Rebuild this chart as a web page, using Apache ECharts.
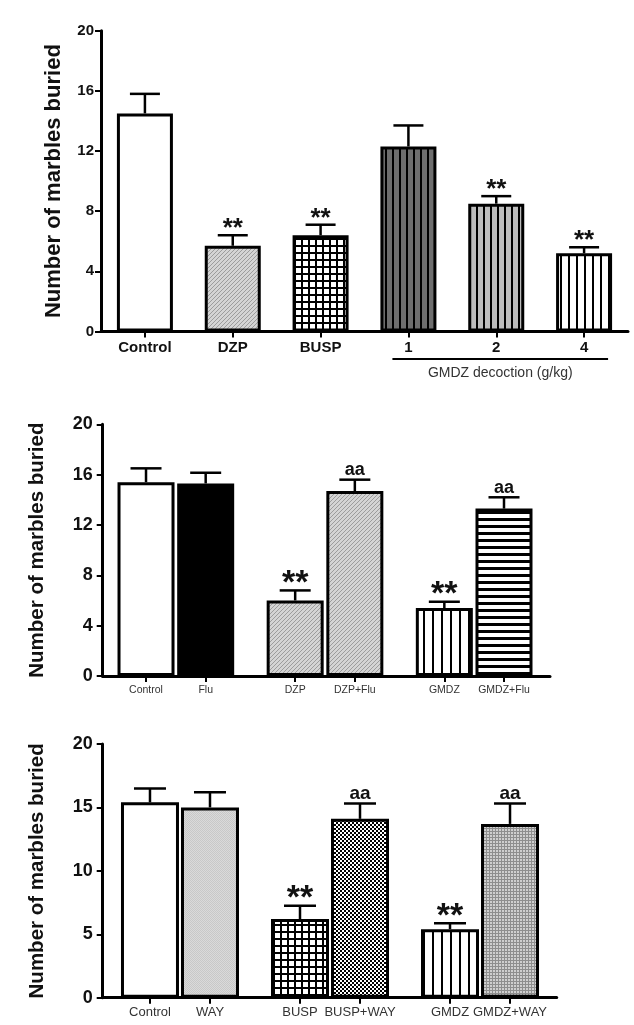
<!DOCTYPE html>
<html><head><meta charset="utf-8">
<script src="https://cdn.jsdelivr.net/npm/echarts@6/dist/echarts.min.js"></script>
<style>html,body{margin:0;padding:0;background:#fff}#c{width:634px;height:1025px}</style>
</head><body><div id="c"></div>
<script>
// ---------- DATA ----------
// Panel A
const catsA = ['Control', 'DZP', 'BUSP', '1', '2', '4'];
const meanA = [14.5, 5.7, 6.4, 12.3, 8.5, 5.2];
const semA  = [1.3, 0.7, 0.7, 1.4, 0.5, 0.4];
const sigA  = ['', '**', '**', '', '**', '**'];
const ticksA = [0, 4, 8, 12, 16, 20];
const groupLabelA = 'GMDZ decoction (g/kg)';
const groupCatsA = ['1', '4'];
// Panel B
const catsB = ['Control', 'Flu', 'DZP', 'DZP+Flu', 'GMDZ', 'GMDZ+Flu'];
const meanB = [15.4, 15.3, 6.0, 14.7, 5.4, 13.3];
const semB  = [1.1, 0.85, 0.8, 0.9, 0.5, 0.9];
const sigB  = ['', '', '**', 'aa', '**', 'aa'];
const ticksB = [0, 4, 8, 12, 16, 20];
// Panel C
const catsC = ['Control', 'WAY', 'BUSP', 'BUSP+WAY', 'GMDZ', 'GMDZ+WAY'];
const meanC = [15.4, 15.0, 6.2, 14.1, 5.4, 13.7];
const semC  = [1.1, 1.2, 1.05, 1.2, 0.47, 1.6];
const sigC  = ['', '', '**', 'aa', '**', 'aa'];
const ticksC = [0, 5, 10, 15, 20];
const yTitle = 'Number of marbles buried';

// ---------- STYLES ----------
function mk(w, h, draw) {
  const c = document.createElement('canvas'); c.width = w; c.height = h;
  const g = c.getContext('2d'); draw(g, w, h);
  return { image: c, repeat: 'repeat' };
}
const P = {
  white: '#ffffff',
  black: '#000000',
  hatch: mk(4, 4, g => { g.fillStyle = '#d4d4d4'; g.fillRect(0,0,4,4); g.fillStyle = '#9c9c9c'; for (let i = 0; i < 4; i++) g.fillRect(i, 3 - i, 1, 1); }),
  grid: mk(7, 7, g => { g.fillStyle = '#fff'; g.fillRect(0,0,7,7); g.fillStyle = '#000'; g.fillRect(0,0,7,2); g.fillRect(0,0,2,7); }),
  vDark: mk(7, 1, g => { g.fillStyle = '#6e6e6e'; g.fillRect(0,0,7,1); g.fillStyle = '#000'; g.fillRect(0,0,2,1); }),
  vLight: mk(7, 1, g => { g.fillStyle = '#bcbcbc'; g.fillRect(0,0,7,1); g.fillStyle = '#000'; g.fillRect(0,0,2,1); }),
  vWhite: mk(8, 1, g => { g.fillStyle = '#fff'; g.fillRect(0,0,8,1); g.fillStyle = '#000'; g.fillRect(0,0,2,1); }),
  vWhite9: mk(9, 1, g => { g.fillStyle = '#fff'; g.fillRect(0,0,9,1); g.fillStyle = '#000'; g.fillRect(0,0,2,1); }),
  hLines: mk(1, 7, g => { g.fillStyle = '#fff'; g.fillRect(0,0,1,7); g.fillStyle = '#000'; g.fillRect(0,0,1,3); }),
  checker: mk(4, 4, g => { g.fillStyle = '#000'; g.fillRect(0,0,4,4); g.fillStyle = '#fff'; g.fillRect(0,0,2,2); g.fillRect(2,2,2,2); }),
  dotLight: mk(2, 2, g => { g.fillStyle = '#dadada'; g.fillRect(0,0,2,2); g.fillStyle = '#c8c8c8'; g.fillRect(0,0,1,1); g.fillRect(1,1,1,1); }),
  dotMid: mk(3, 3, g => { g.fillStyle = '#cfcfcf'; g.fillRect(0,0,3,3); g.fillStyle = '#8e8e8e'; g.fillRect(0,0,3,1); g.fillRect(0,0,1,3); })
};
const fillA = ['white', 'hatch', 'grid', 'vDark', 'vLight', 'vWhite'];
const fillB = ['white', 'black', 'hatch', 'hatch', 'vWhite9', 'hLines'];
const fillC = ['white', 'dotLight', 'grid', 'checker', 'vWhite9', 'dotMid'];

const FONT = 'Liberation Sans, Arial, sans-serif';
// pair layout: two adjacent bars, then a half-bar gap
const pos = catsB.map((c, i) => i + Math.floor(i / 2) * 0.5);

function errRender(sig, capHalf, lw, fsStar, fsA) {
  return function (params, api) {
    const x = api.value(0), m = api.value(1), e = api.value(2);
    const b = api.coord([x, m]), t = api.coord([x, m + e]);
    const s = sig[params.dataIndex];
    const ch = [
      { type: 'line', shape: { x1: b[0], y1: b[1], x2: t[0], y2: t[1] }, style: { stroke: '#000', lineWidth: lw } },
      { type: 'line', shape: { x1: t[0] - capHalf, y1: t[1], x2: t[0] + capHalf, y2: t[1] }, style: { stroke: '#000', lineWidth: lw } }
    ];
    if (s) {
      const star = s === '**';
      const fs = star ? fsStar : fsA;
      const y = star ? t[1] - 4 + 0.42 * fs : t[1] - 4 + 0.21 * fs;
      ch.push({ type: 'text', x: t[0], y: y, style: { text: s, font: 'bold ' + fs + 'px ' + FONT, fill: '#111', align: 'center', verticalAlign: 'bottom' } });
    }
    return { type: 'group', children: ch };
  };
}

function yAxis(gi, ticks, interval, fs, margin, nameGap, nameFs) {
  return {
    gridIndex: gi, type: 'value', min: 0, max: 20, interval: interval,
    name: yTitle, nameLocation: 'middle', nameRotate: 90, nameGap: nameGap,
    nameTextStyle: { fontFamily: FONT, fontWeight: 'bold', fontSize: nameFs, color: '#111' },
    axisLine: { show: true, onZero: false, lineStyle: { color: '#000', width: 3 } },
    axisTick: { show: true, length: 6, lineStyle: { color: '#000', width: 2 } },
    axisLabel: { margin: margin, fontFamily: FONT, fontWeight: 'bold', fontSize: fs, color: '#111' },
    splitLine: { show: false }
  };
}

function barData(cats, means, fills, useCat) {
  return means.map((v, i) => ({ value: [useCat ? i : pos[i], v], itemStyle: { color: P[fills[i]] } }));
}
function errData(means, sems, useCat) {
  return means.map((v, i) => [useCat ? i : pos[i], v, sems[i]]);
}
function valX(gi, cats, min, max, fs, weight, margin) {
  return {
    gridIndex: gi, type: 'value', min: min, max: max,
    axisLine: { show: true, onZero: false, lineStyle: { color: '#000', width: 3 } },
    axisTick: { show: true, customValues: pos, length: 6, lineStyle: { color: '#000', width: 2 } },
    axisLabel: { customValues: pos, margin: margin, fontFamily: FONT, fontSize: fs, fontWeight: weight, color: '#333',
      formatter: v => { let k = 0, d = 1e9; pos.forEach((p, i) => { if (Math.abs(p - v) < d) { d = Math.abs(p - v); k = i; } }); return cats[k]; } },
    splitLine: { show: false }
  };
}

const chart = echarts.init(document.getElementById('c'), null, { renderer: 'canvas' });
const barCommon = { type: 'bar', barGap: '0%', itemStyle: { borderColor: '#000', borderWidth: 3 }, emphasis: { disabled: true }, silent: true };
chart.setOption({
  animation: false,
  backgroundColor: '#fff',
  grid: [
    { left: 101, top: 30.7, width: 527, height: 300.8 },
    { left: 102.7, top: 424.3, width: 447.3, height: 251.7 },
    { left: 102.7, top: 744, width: 454, height: 253.7 }
  ],
  xAxis: [
    { gridIndex: 0, type: 'category', data: catsA, boundaryGap: true,
      axisLine: { show: true, onZero: false, lineStyle: { color: '#000', width: 3 } },
      axisTick: { show: true, alignWithLabel: true, length: 6, lineStyle: { color: '#000', width: 2 } },
      axisLabel: { margin: 9, fontFamily: FONT, fontSize: 15, fontWeight: 'bold', color: '#111' } },
    valX(1, catsB, -0.726, 6.771, 10.5, 'normal', 9),
    valX(2, catsC, -0.788, 6.778, 13, 'normal', 8)
  ],
  yAxis: [
    yAxis(0, ticksA, 4, 15, 7, 36, 22),
    yAxis(1, ticksB, 4, 18, 10, 55, 20.5),
    yAxis(2, ticksC, 5, 18, 10, 55, 20.5)
  ],
  series: [
    Object.assign({}, barCommon, { xAxisIndex: 0, yAxisIndex: 0, barWidth: 56, data: barData(catsA, meanA, fillA, true) }),
    { type: 'custom', xAxisIndex: 0, yAxisIndex: 0, silent: true, z: 5, renderItem: errRender(sigA, 15, 2.5, 26, 18), data: errData(meanA, semA, true) },
    Object.assign({}, barCommon, { xAxisIndex: 1, yAxisIndex: 1, barWidth: 57, data: barData(catsB, meanB, fillB, false) }),
    { type: 'custom', xAxisIndex: 1, yAxisIndex: 1, silent: true, z: 5, renderItem: errRender(sigB, 15.5, 2.5, 34, 18), data: errData(meanB, semB, false) },
    Object.assign({}, barCommon, { xAxisIndex: 2, yAxisIndex: 2, barWidth: 58, data: barData(catsC, meanC, fillC, false) }),
    { type: 'custom', xAxisIndex: 2, yAxisIndex: 2, silent: true, z: 5, renderItem: errRender(sigC, 16, 2.5, 34, 19), data: errData(meanC, semC, false) }
  ]
});
// group bracket under doses
const xa = chart.convertToPixel({ xAxisIndex: 0 }, groupCatsA[0]);
const xb = chart.convertToPixel({ xAxisIndex: 0 }, groupCatsA[1]);
const y0 = chart.convertToPixel({ yAxisIndex: 0 }, 0);
chart.setOption({
  graphic: [
    { type: 'line', shape: { x1: xa - 16, y1: y0 + 27.5, x2: xb + 24, y2: y0 + 27.5 }, style: { stroke: '#000', lineWidth: 2 } },
    { type: 'text', x: (xa + xb) / 2 + 4, y: y0 + 42, style: { text: groupLabelA, font: '14px ' + FONT, fill: '#333', align: 'center', verticalAlign: 'middle' } }
  ]
});
</script></body></html>
